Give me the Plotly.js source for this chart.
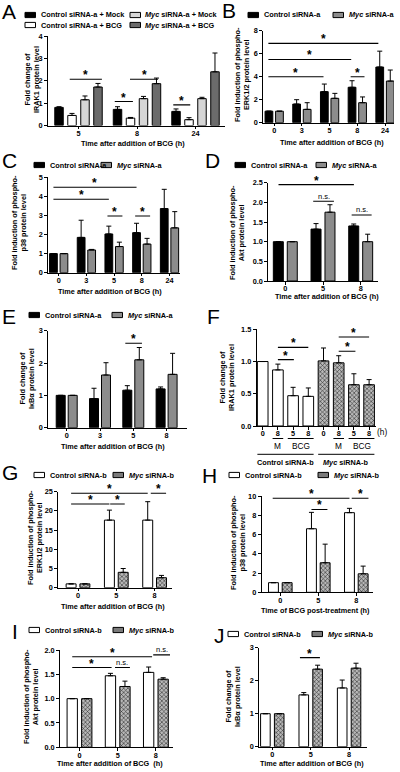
<!DOCTYPE html>
<html><head><meta charset="utf-8">
<script src="https://cdn.plot.ly/plotly-3.0.1.min.js"></script>
<style>html,body{margin:0;padding:0;background:#fff}#chart{width:400px;height:772px}</style>
</head><body><div id="chart"></div>
<script>
// ================= DATA =================
// A: IRAK1, siRNA-a, mock/BCG
const catA = ["5", "8", "24"];
const aCtrlMock = [0.81, 0.72, 0.63], aCtrlMockSem = [0.03, 0.12, 0.11];
const aCtrlBcg  = [0.45, 0.33, 0.26], aCtrlBcgSem  = [0.09, 0.03, 0.09];
const aMycMock  = [1.15, 1.20, 1.20], aMycMockSem  = [0.17, 0.10, 0.06];
const aMycBcg   = [1.72, 1.87, 2.40], aMycBcgSem   = [0.16, 0.25, 0.84];
const sigA = [[-0.15, 0.40, 2.07, "*"], [0.88, 1.36, 2.07, "*"], [0.62, 0.93, 1.07, "*"], [1.62, 1.91, 0.92, "*"]];

// B: phospho-ERK1/2, siRNA-a
const catB = ["0", "3", "5", "8", "24"];
const bCtrl = [1, 1.62, 2.70, 3.08, 4.84], bCtrlSem = [0, 0.38, 0.66, 0.57, 1.38];
const bMyc  = [1, 1.16, 2.12, 1.74, 3.62], bMycSem  = [0, 0.58, 0.43, 0.50, 0.96];
const sigB = [[-0.21, 3.76, 6.9, "*"], [-0.21, 2.78, 5.5, "*"], [-0.21, 1.78, 4.0, "*"], [2.76, 3.26, 4.0, "*"]];

// C: phospho-p38, siRNA-a
const catC = ["0", "3", "5", "8", "24"];
const cCtrl = [1, 1.85, 2.03, 2.10, 3.36], cCtrlSem = [0, 0.90, 0.41, 0.49, 1.01];
const cMyc  = [1, 1.19, 1.37, 1.50, 2.35], cMycSem  = [0, 0.03, 0.23, 0.30, 0.85];
const sigC = [[-0.19, 2.81, 4.48, "*"], [-0.19, 1.81, 3.85, "*"], [1.76, 2.30, 2.97, "*"], [2.76, 3.30, 2.97, "*"]];

// D: phospho-Akt, siRNA-a
const catD = ["0", "5", "8"];
const dCtrl = [1, 1.32, 1.40], dCtrlSem = [0, 0.14, 0.05];
const dMyc  = [1, 1.75, 1.00], dMycSem  = [0, 0.19, 0.19];
const sigD = [[-0.18, 1.82, 2.45, "*"], [0.74, 1.29, 2.03, "n.s."], [1.76, 2.29, 1.68, "n.s."]];

// E: IkBa, siRNA-a
const catE = ["0", "3", "5", "8"];
const eCtrl = [1, 0.90, 1.16, 1.20], eCtrlSem = [0, 0.32, 0.14, 0.06];
const eMyc  = [1, 1.63, 2.10, 1.65], eMycSem  = [0, 0.38, 0.38, 0.65];
const sigE = [[1.76, 2.26, 2.61, "*"]];

// F: IRAK1, siRNA-b (bars: 0, 8 mock, 5 BCG, 8 BCG for each siRNA)
const catF = ["0", "8", "5", "8", "0", "8", "5", "8"];
const fCtrl = [1.00, 0.87, 0.47, 0.46], fCtrlSem = [0, 0.09, 0.13, 0.13];
const fMyc  = [1.01, 0.98, 0.64, 0.64], fMycSem  = [0.20, 0.11, 0.17, 0.08];
const sigF = [[3.0, 7.0, 1.55, "*"], [5.0, 7.0, 1.38, "*"], [5.0, 6.1, 1.16, "*"], [1.0, 3.0, 1.22, "*"], [1.0, 2.05, 1.03, "*"]];

// G: phospho-ERK1/2, siRNA-b
const catG = ["0", "5", "8"];
const gCtrl = [1, 17.6, 17.6], gCtrlSem = [0, 2.6, 4.8];
const gMyc  = [1, 4.0, 2.6],   gMycSem  = [0, 1.0, 0.6];
const sigG = [[-0.18, 1.82, 24.6, "*"], [-0.18, 0.82, 21.8, "*"], [0.84, 1.22, 21.8, "*"], [1.9, 2.3, 24.6, "*"]];

// H: phospho-p38, siRNA-b
const catH = ["0", "5", "8"];
const hCtrl = [1, 6.6, 8.27], hCtrlSem = [0, 1.7, 0.45];
const hMyc  = [1, 3.07, 1.92], hMycSem = [0, 1.93, 0.8];
const sigH = [[-0.2, 1.82, 9.76, "*"], [0.82, 1.24, 8.6, "*"], [1.88, 2.32, 9.76, "*"]];

// I: phospho-Akt, siRNA-b
const catI = ["0", "5", "8"];
const iCtrl = [1, 1.47, 1.54], iCtrlSem = [0, 0.05, 0.11];
const iMyc  = [1, 1.25, 1.40], iMycSem  = [0, 0.11, 0.03];
const sigI = [[0.19, 1.9, 2.12, "*"], [-0.19, 1.9, 1.86, "*"], [-0.19, 0.84, 1.64, "*"], [0.93, 1.32, 1.64, "n.s."], [1.93, 2.37, 1.9, "n.s."]];

// J: IkBa, siRNA-b
const catJ = ["0", "5", "8"];
const jCtrl = [1, 1.57, 1.78], jCtrlSem = [0, 0.07, 0.24];
const jMyc  = [1, 2.35, 2.38], jMycSem  = [0, 0.12, 0.15];
const sigJ = [[0.72, 1.24, 2.7, "*"]];

// ================= LAYOUT / STYLE =================
const W = 400, H = 772;
const FONT = "Liberation Sans, Arial, Helvetica, sans-serif";
const fB = s => ({family: FONT, size: s, color: "#000", weight: "bold"});
const fN = s => ({family: FONT, size: s, color: "#000"});
const BLACK = "#000000", WHITE = "#ffffff", GRAY = "#8c8c8c", LGRAY = "#d6d6d6", DGRAY = "#6b6b6b";
const CHECK = {color: "#9a9a9a", pattern: {shape: "x", size: 3, solidity: 0.35, fgcolor: "#2e2e2e", bgcolor: "#b8b8b8", fillmode: "replace"}};

// pixel geometry of each plot area
const geo = {
  1: {ax: 48, xe: 225, yt: 36, yb: 125.5, c0: 78.5, sp: 58.5, ymax: 4, dtick: 1},
  2: {ax: 263.3, xe: 394, yt: 30.7, yb: 122.7, c0: 274.2, sp: 27.7, ymax: 8, dtick: 2},
  3: {ax: 48.3, xe: 180, yt: 177.3, yb: 272.7, c0: 58.7, sp: 27.7, ymax: 5, dtick: 1},
  4: {ax: 268.3, xe: 378.3, yt: 182.7, yb: 281, c0: 285.3, sp: 37.7, ymax: 2.5, dtick: 0.5, fmt: ".1f"},
  5: {ax: 48.3, xe: 186.7, yt: 330.7, yb: 427.7, c0: 66.7, sp: 33.3, ymax: 3, dtick: 1},
  6: {ax: 256.7, xe: 376, yt: 329.3, yb: 426, c0: 262.7, sp: 15.2, ymax: 1.5, dtick: 0.5, fmt: ".1f"},
  7: {ax: 58.3, xe: 172, yt: 491.7, yb: 587.7, c0: 78, sp: 38.3, ymax: 25, dtick: 5},
  8: {ax: 261.7, xe: 373.3, yt: 496, yb: 592.3, c0: 280.3, sp: 38, ymax: 10, dtick: 2},
  9: {ax: 60, xe: 173.3, yt: 650, yb: 747.3, c0: 79.5, sp: 38.2, ymax: 2, dtick: 0.5, fmt: ".1f"},
  10: {ax: 259.3, xe: 367, yt: 647.7, yb: 746.7, c0: 272.3, sp: 38.4, ymax: 3, dtick: 1}
};

const xid = k => k === 1 ? "x" : "x" + k;
const yid = k => k === 1 ? "y" : "y" + k;
const layout = {
  width: W, height: H, margin: {l: 0, r: 0, t: 0, b: 0},
  paper_bgcolor: "#fff", plot_bgcolor: "rgba(0,0,0,0)",
  showlegend: false, barmode: "overlay",
  annotations: [], shapes: []
};
const traces = [];

function axes(k, cats) {
  const g = geo[k];
  layout[k === 1 ? "xaxis" : "xaxis" + k] = {
    domain: [g.ax / W, g.xe / W], range: [(g.ax - g.c0) / g.sp, (g.xe - g.c0) / g.sp],
    anchor: yid(k), showline: true, linecolor: "#000", linewidth: 1,
    ticks: "outside", ticklen: 2.5, tickwidth: 1, tickcolor: "#000", ticklabelstandoff: -2,
    tickvals: cats.map((c, i) => i), ticktext: cats, tickfont: fB(7.3),
    showgrid: false, zeroline: false, fixedrange: true
  };
  layout[k === 1 ? "yaxis" : "yaxis" + k] = {
    domain: [1 - g.yb / H, 1 - g.yt / H], range: [0, g.ymax], anchor: xid(k),
    showline: true, linecolor: "#000", linewidth: 1,
    ticks: "outside", ticklen: 3, tickwidth: 1, tickcolor: "#000",
    tick0: 0, dtick: g.dtick, tickformat: g.fmt || "", tickfont: fB(7.3),
    showgrid: false, zeroline: false, fixedrange: true
  };
}

function bar(k, xs, ys, sem, cOff, w, marker) {
  traces.push({
    type: "bar", x: xs, y: ys, xaxis: xid(k), yaxis: yid(k),
    offset: cOff - w / 2, width: w,
    marker: Object.assign({line: {color: "#000", width: 1}}, marker),
    error_y: {type: "data", symmetric: false, array: sem, arrayminus: sem.map(() => 0),
              color: "#000", thickness: 1, width: 2.5},
    hoverinfo: "skip"
  });
}

function sig(k, list) {
  list.forEach(s => {
    traces.push({type: "scatter", mode: "lines", x: [s[0], s[1]], y: [s[2], s[2]],
      xaxis: xid(k), yaxis: yid(k), cliponaxis: false,
      line: {color: "#000", width: 1.1}, hoverinfo: "skip"});
    const star = s[3] === "*";
    layout.annotations.push({xref: xid(k), yref: yid(k), x: (s[0] + s[1]) / 2, y: s[2],
      text: s[3], showarrow: false, yanchor: "bottom", xanchor: "center",
      yshift: star ? -5 : -1.5, font: star ? fB(12) : fN(7.5)});
  });
}

function ann(px, py, text, font, xa, ya, angle) {
  layout.annotations.push({xref: "paper", yref: "paper", x: px / W, y: 1 - py / H, text: text,
    showarrow: false, xanchor: xa || "center", yanchor: ya || "middle", textangle: angle || 0,
    font: font, borderpad: 0});
}
function swatch(x0, yc, color) {
  layout.shapes.push({type: "rect", xref: "paper", yref: "paper",
    x0: x0 / W, x1: (x0 + 10.5) / W, y0: 1 - (yc + 2.6) / H, y1: 1 - (yc - 2.6) / H,
    fillcolor: color, line: {color: "#000", width: 1}});
}
function legend2(yc, x1, t1, c1, x2, t2, c2) {
  swatch(x1, yc, c1); ann(x1 + 15, yc, t1, fB(7.3), "left");
  swatch(x2, yc, c2); ann(x2 + 15, yc, t2, fB(7.3), "left");
}
const idx = cats => cats.map((c, i) => i);

// ---- Panel A ----
axes(1, catA);
bar(1, idx(catA), aCtrlMock, aCtrlMockSem, -0.333, 0.145, {color: BLACK});
bar(1, idx(catA), aCtrlBcg, aCtrlBcgSem, -0.111, 0.145, {color: WHITE});
bar(1, idx(catA), aMycMock, aMycMockSem, 0.111, 0.145, {color: LGRAY});
bar(1, idx(catA), aMycBcg, aMycBcgSem, 0.333, 0.145, {color: DGRAY});
sig(1, sigA);

// ---- Panels with two series ----
function twoSeries(k, cats, c, cs, m, ms, off, w, cMarker, mMarker, s) {
  axes(k, cats);
  bar(k, idx(cats), c, cs, -off, w, cMarker);
  bar(k, idx(cats), m, ms, off, w, mMarker);
  sig(k, s);
}
twoSeries(2, catB, bCtrl, bCtrlSem, bMyc, bMycSem, 0.19, 0.28, {color: BLACK}, {color: GRAY}, sigB);
twoSeries(3, catC, cCtrl, cCtrlSem, cMyc, cMycSem, 0.19, 0.28, {color: BLACK}, {color: GRAY}, sigC);
twoSeries(4, catD, dCtrl, dCtrlSem, dMyc, dMycSem, 0.185, 0.265, {color: BLACK}, {color: GRAY}, sigD);
twoSeries(5, catE, eCtrl, eCtrlSem, eMyc, eMycSem, 0.18, 0.27, {color: BLACK}, {color: GRAY}, sigE);
twoSeries(7, catG, gCtrl, gCtrlSem, gMyc, gMycSem, 0.18, 0.26, {color: WHITE}, CHECK, sigG);
twoSeries(8, catH, hCtrl, hCtrlSem, hMyc, hMycSem, 0.18, 0.26, {color: WHITE}, CHECK, sigH);
twoSeries(9, catI, iCtrl, iCtrlSem, iMyc, iMycSem, 0.19, 0.27, {color: WHITE}, CHECK, sigI);
twoSeries(10, catJ, jCtrl, jCtrlSem, jMyc, jMycSem, 0.18, 0.25, {color: WHITE}, CHECK, sigJ);

// ---- Panel F ----
axes(6, catF);
bar(6, [0, 1, 2, 3], fCtrl, fCtrlSem, 0, 0.7, {color: WHITE});
bar(6, [4, 5, 6, 7], fMyc, fMycSem, 0, 0.7, CHECK);
sig(6, sigF);
// group labels under F
function fLine(x0, x1, py) {
  layout.shapes.push({type: "line", xref: "x6", yref: "paper", x0: x0, x1: x1,
    y0: 1 - py / H, y1: 1 - py / H, line: {color: "#000", width: 1}});
}
function fText(x, py, text, font) {
  layout.annotations.push({xref: "x6", yref: "paper", x: x, y: 1 - py / H, text: text,
    showarrow: false, xanchor: "center", yanchor: "middle", font: font});
}
fLine(0.65, 1.35, 438.5); fLine(1.65, 3.35, 438.5); fLine(4.65, 5.35, 438.5); fLine(5.65, 7.35, 438.5);
fText(1, 445.5, "M", fN(8.3)); fText(2.5, 445.5, "BCG", fN(8.3));
fText(5, 445.5, "M", fN(8.3)); fText(6.5, 445.5, "BCG", fN(8.3));
fLine(-0.35, 3.35, 454.3); fLine(3.65, 7.35, 454.3);
fText(1.5, 462.5, "Control siRNA-b", fB(7.3)); fText(5.5, 462.5, "<i>Myc</i> siRNA-b", fB(7.3));
ann(382, 432, "(h)", fN(8.3));

// ---- Legends ----
swatch(25, 15, BLACK); ann(40, 15, "Control siRNA-a + Mock", fB(7.3), "left");
swatch(130, 15, LGRAY); ann(144, 15, "<i>Myc</i> siRNA-a + Mock", fB(7.3), "left");
swatch(25, 25, WHITE); ann(40, 25, "Control siRNA-a + BCG", fB(7.3), "left");
swatch(130, 25, DGRAY); ann(144, 25, "<i>Myc</i> siRNA-a + BCG", fB(7.3), "left");
legend2(15, 248, "Control siRNA-a", BLACK, 333, "<i>Myc</i> siRNA-a", GRAY);
legend2(165, 34, "Control siRNA-a", BLACK, 101, "<i>Myc</i> siRNA-a", GRAY);
legend2(165, 235, "Control siRNA-a", BLACK, 316, "<i>Myc</i> siRNA-a", GRAY);
legend2(315, 29, "Control siRNA-a", BLACK, 112, "<i>Myc</i> siRNA-a", GRAY);
legend2(475, 34, "Control siRNA-b", WHITE, 113, "<i>Myc</i> siRNA-b", "#7a7a7a");
legend2(475, 229, "Control siRNA-b", WHITE, 318, "<i>Myc</i> siRNA-b", "#7a7a7a");
legend2(630, 29, "Control siRNA-b", WHITE, 113, "<i>Myc</i> siRNA-b", "#7a7a7a");
legend2(634, 228, "Control siRNA-b", WHITE, 312, "<i>Myc</i> siRNA-b", "#7a7a7a");

// ---- Panel letters ----
[["A", 1, 11], ["B", 221, 10], ["C", 1, 161], ["D", 204, 161], ["E", 1, 316],
 ["F", 206, 316], ["G", 1, 473], ["H", 201, 475], ["I", 11, 631], ["J", 213, 635]]
  .forEach(l => ann(l[1], l[2], l[0], fN(21), "left"));

// ---- Y titles ----
const tIRAK = "Fold change of<br>IRAK1 protein level";
const tERK = "Fold induction of phospho-<br>ERK1/2 protein level";
const tP38 = "Fold induction of phospho-<br>p38 protein level";
const tAKT = "Fold induction of phospho-<br>Akt protein level";
const tIKB = "Fold change of<br>I\u03BAB\u03B1 protein level";
[[tIRAK, 32, 80], [tERK, 242, 75], [tP38, 19, 223], [tAKT, 237, 233], [tIKB, 27, 379],
 [tIRAK, 227, 378], [tERK, 35, 538], [tP38, 238, 543], [tAKT, 31, 697], [tIKB, 233, 697]]
  .forEach(t => ann(t[1], t[2], t[0], fB(7.3), "center", "middle", -90));

// ---- X titles ----
const tTime = "Time after addition of BCG (h)";
[[tTime, 133, 143.3], [tTime, 331.7, 142.3], [tTime, 110, 291.7], [tTime, 327, 296],
 [tTime, 113, 446.7], [tTime, 113, 606.7], ["Time of BCG post-treatment (h)", 315, 610.7],
 ["Time after addition of BCG\u00A0 (h)", 110, 763], [tTime, 311.7, 763]]
  .forEach(t => ann(t[1], t[2], t[0], fB(7.3)));

Plotly.newPlot("chart", traces, layout, {staticPlot: true, displayModeBar: false});
</script></body></html>
